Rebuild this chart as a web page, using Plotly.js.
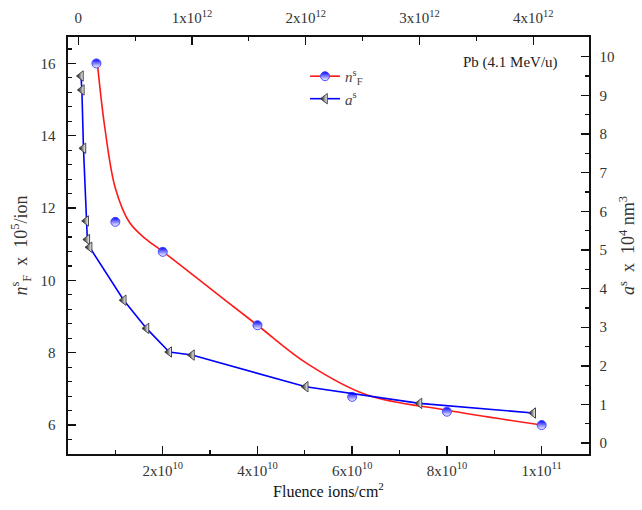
<!DOCTYPE html>
<html>
<head>
<meta charset="utf-8">
<script src="https://cdn.plot.ly/plotly-3.0.1.min.js"></script>
<style>html,body{margin:0;padding:0;background:#fff;font-family:"Liberation Serif",serif;}#chart{width:642px;height:510px;}
#chart text{font-family:"Liberation Serif","Times New Roman","DejaVu Serif",serif !important;}</style>
</head>
<body>
<div id="chart"></div>
<script>
// n_F^s measured points (bottom axis: fluence, left axis)
const nF_x = [0.6e10, 1e10, 2e10, 4e10, 6e10, 8e10, 1e11];
const nF_y = [16.0, 11.62, 10.79, 8.76, 6.78, 6.37, 6.0];
// n_F^s fitted curve
const fit_x = [0.62e10, 0.78e10, 1.0e10, 1.3e10, 1.62e10, 2.01e10, 3.0e10, 4.0e10, 5.05e10, 6.32e10, 8.0e10, 1e11];
const fit_y = [16.0, 14.2, 12.55, 11.6, 11.17, 10.79, 9.78, 8.76, 7.7, 6.83, 6.41, 6.0];
// a^s points (top axis: fluence, right axis)
const a_x = [0.024e12, 0.032e12, 0.046e12, 0.07e12, 0.08e12, 0.1e12, 0.4e12, 0.6e12, 0.8e12, 1.0e12, 2e12, 3e12, 4e12];
const a_y = [9.5, 9.14, 7.63, 5.75, 5.27, 5.07, 3.70, 2.97, 2.36, 2.28, 1.46, 1.03, 0.78];
// tick labels
const xTickVals = [2e10, 4e10, 6e10, 8e10, 1e11];
const xTickText = ['2x10<sup>10</sup>', '4x10<sup>10</sup>', '6x10<sup>10</sup>', '8x10<sup>10</sup>', '1x10<sup>11</sup>'];
const x2TickVals = [0, 1e12, 2e12, 3e12, 4e12];
const x2TickText = ['0', '1x10<sup>12</sup>', '2x10<sup>12</sup>', '3x10<sup>12</sup>', '4x10<sup>12</sup>'];
const yTickVals = [6, 8, 10, 12, 14, 16];
const y2TickVals = [0, 1, 2, 3, 4, 5, 6, 7, 8, 9, 10];

const circleMarker = {symbol: 'circle', size: 9, color: '#0000ff',
  gradient: {type: 'vertical', color: '#ffffff'}, line: {color: '#4a4aff', width: 1}};
const triMarker = {symbol: 'triangle-left', size: 9, color: '#000000',
  gradient: {type: 'horizontal', color: '#ffffff'}, line: {color: '#444', width: 1}};

const traces = [
  {x: fit_x, y: fit_y, mode: 'lines', line: {color: '#ff1a1a', width: 1.6, shape: 'spline', smoothing: 1.0},
   xaxis: 'x', yaxis: 'y', showlegend: false, hoverinfo: 'skip'},
  {x: a_x, y: a_y, mode: 'lines+markers', line: {color: '#0000ff', width: 1.6},
   marker: triMarker, xaxis: 'x2', yaxis: 'y2', showlegend: false},
  {x: nF_x, y: nF_y, mode: 'markers', marker: circleMarker, xaxis: 'x', yaxis: 'y', showlegend: false},
  // legend entries
  {x: [null], y: [null], mode: 'lines+markers', name: '<i>n</i><sup>s</sup><sub>F</sub>',
   line: {color: '#ff1a1a', width: 1.6}, marker: circleMarker, xaxis: 'x', yaxis: 'y'},
  {x: [null], y: [null], mode: 'lines+markers', name: '<i>a</i><sup>s</sup>',
   line: {color: '#0000ff', width: 1.6}, marker: triMarker, xaxis: 'x', yaxis: 'y'}
];

const fontFam = 'Times New Roman';
const axBase = {showline: true, linecolor: '#111', linewidth: 1.6, ticks: 'inside', tickcolor: '#111',
  tickwidth: 1.4, ticklen: 8, showgrid: false, zeroline: false, tickmode: 'array',
  tickfont: {family: fontFam, size: 15, color: '#333'}};

const layout = {
  width: 642, height: 510,
  margin: {l: 68, r: 53, t: 37, b: 56},
  paper_bgcolor: '#fff', plot_bgcolor: '#fff',
  font: {family: fontFam, color: '#222'},
  showlegend: true,
  legend: {x: 0.455, y: 0.945, xanchor: 'left', yanchor: 'top', bgcolor: 'rgba(0,0,0,0)',
    font: {family: fontFam, size: 15, color: '#444'}, tracegroupgap: 0},
  xaxis: Object.assign({}, axBase, {range: [0, 1.1e11], tickvals: xTickVals, ticktext: xTickText,
    ticklabelstandoff: 2,
    minor: {tickmode: 'linear', tick0: 0, dtick: 1e10, ticks: 'inside', ticklen: 4, tickcolor: '#111', tickwidth: 1.2},
    title: {text: 'Fluence ions/cm<sup>2</sup>', font: {family: fontFam, size: 16, color: '#111'}, standoff: 8}}),
  xaxis2: Object.assign({}, axBase, {overlaying: 'x', side: 'top', range: [-0.09e12, 4.49e12],
    tickvals: x2TickVals, ticktext: x2TickText, ticklabelstandoff: 6,
    minor: {tickmode: 'linear', tick0: 0, dtick: 0.5e12, ticks: 'inside', ticklen: 4, tickcolor: '#111', tickwidth: 1.2}}),
  yaxis: Object.assign({}, axBase, {range: [5.2, 16.73], tickvals: yTickVals, ticklabelstandoff: 8,
    minor: {tickmode: 'linear', tick0: 6, dtick: 0.4, ticks: 'inside', ticklen: 4, tickcolor: '#111', tickwidth: 1.2},
    title: {text: '<i>n</i><sup>s</sup><sub>F</sub>  x  10<sup>5</sup>/ion', font: {family: fontFam, size: 18, color: '#333'}, standoff: 8}}),
  yaxis2: Object.assign({}, axBase, {overlaying: 'y', side: 'right', range: [-0.28, 10.51], tickvals: y2TickVals,
    ticklabelstandoff: 6,
    minor: {tickmode: 'linear', tick0: 0, dtick: 0.5, ticks: 'inside', ticklen: 4, tickcolor: '#111', tickwidth: 1.2},
    title: {text: '<i>a</i><sup>s</sup>  x  10<sup>4</sup> nm<sup>3</sup>', font: {family: fontFam, size: 18, color: '#333'}, standoff: 8}}),
  annotations: [
    {xref: 'paper', yref: 'paper', x: 0.944, y: 0.938, xanchor: 'right', yanchor: 'middle', showarrow: false,
     text: 'Pb (4.1 MeV/u)', font: {family: fontFam, size: 15, color: '#222'}}
  ]
};

Plotly.newPlot('chart', traces, layout, {displayModeBar: false, staticPlot: true});
</script>
</body>
</html>
